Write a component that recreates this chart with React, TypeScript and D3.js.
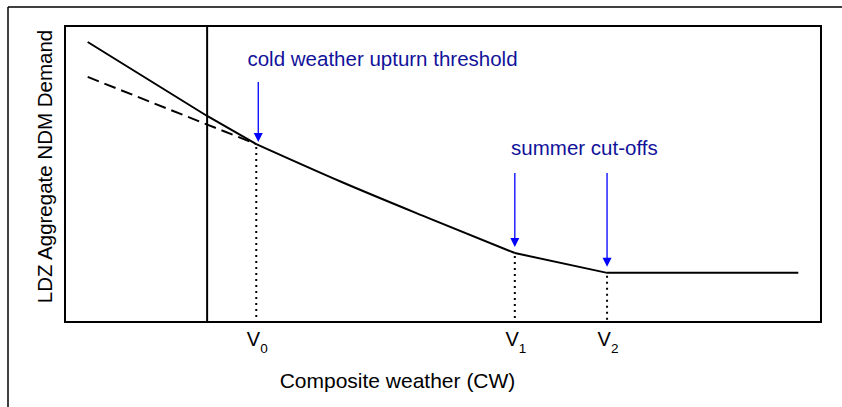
import React from "react";
import * as d3 from "d3";

// Abstract units (composite weather on x, demand on y), both 0..100
const solidUpper: [number, number][] = [
  [3.0, 94.6],
  [18.8, 69.6],
  [25.3, 60.1],
];
const solidMid: [number, number][] = [
  [25.3, 60.1],
  [36.6, 47.3],
  [48.1, 35.1],
  [59.5, 23.3],
];
const solidLower: [number, number][] = [
  [59.5, 23.3],
  [71.7, 16.6],
  [97.0, 16.6],
];
const dashedLine: [number, number][] = [
  [3.0, 82.8],
  [25.3, 60.1],
];
const verticalLineX = 18.8;
const thresholds = [
  { name: "V", sub: "0", x: 25.3, y: 60.1 },
  { name: "V", sub: "1", x: 59.5, y: 23.3 },
  { name: "V", sub: "2", x: 71.7, y: 16.6 },
];
const annotations = [
  { text: "cold weather upturn threshold", arrows: [0], arrowTop: 81.1, labelY: 86.5, labelX: 42.0 },
  { text: "summer cut-offs", arrows: [1, 2], arrowTop: 50.3, labelY: 56.5, labelX: 68.7 },
];
const xTitle = "Composite weather (CW)";
const yTitle = "LDZ Aggregate NDM Demand";

const W = 842;
const H = 407;
const box = { left: 65, right: 821, top: 26, bottom: 322 };
const FONT = "'Liberation Sans', Arial, sans-serif";

export default function App() {
  const x = d3.scaleLinear().domain([0, 100]).range([box.left, box.right]);
  const y = d3.scaleLinear().domain([0, 100]).range([box.bottom, box.top]);
  const lin = d3.line<[number, number]>().x((d) => x(d[0])).y((d) => y(d[1]));
  const smooth = d3
    .line<[number, number]>()
    .x((d) => x(d[0]))
    .y((d) => y(d[1]))
    .curve(d3.curveMonotoneX);

  const arrowColor = "#0000ff";
  const textColor = "#12129a";

  return (
    <svg
      width={W}
      height={H}
      style={{ position: "absolute", left: 0, top: 0, background: "#fff" }}
      fontFamily={FONT}
    >
      <rect x={0} y={0} width={W} height={H} fill="#fff" />
      {/* outer frame (top & left visible) */}
      <line x1={8} y1={7} x2={W} y2={7} stroke="#000" strokeWidth={1.5} />
      <line x1={8} y1={7} x2={8} y2={H} stroke="#000" strokeWidth={1.5} />

      {/* plot box */}
      <rect
        x={box.left}
        y={box.top}
        width={box.right - box.left}
        height={box.bottom - box.top}
        fill="none"
        stroke="#000"
        strokeWidth={2}
      />
      {/* vertical line */}
      <line
        x1={x(verticalLineX)}
        x2={x(verticalLineX)}
        y1={box.top}
        y2={box.bottom}
        stroke="#000"
        strokeWidth={2}
      />

      {/* dotted drop lines */}
      {thresholds.map((t, i) => (
        <line
          key={"d" + i}
          x1={x(t.x)}
          x2={x(t.x)}
          y1={y(t.y) + 3}
          y2={box.bottom}
          stroke="#000"
          strokeWidth={2}
          strokeDasharray="2,4"
        />
      ))}

      {/* dashed line */}
      <path d={lin(dashedLine) || ""} fill="none" stroke="#000" strokeWidth={2} strokeDasharray="12,6" />
      {/* solid curve */}
      <path d={lin(solidUpper) || ""} fill="none" stroke="#000" strokeWidth={2} />
      <path d={smooth(solidMid) || ""} fill="none" stroke="#000" strokeWidth={2} />
      <path d={lin(solidLower) || ""} fill="none" stroke="#000" strokeWidth={2} />

      {/* annotations */}
      {annotations.map((a, i) => (
        <g key={"a" + i}>
          <text
            x={x(a.labelX)}
            y={y(a.labelY)}
            textAnchor="middle"
            fontSize={20.5}
            fill={textColor}
          >
            {a.text}
          </text>
          {a.arrows.map((k) => {
            const t = thresholds[k];
            const ax = x(t.x) + (k === 0 ? 2 : 0);
            const tip = y(t.y) - (k === 0 ? 2 : 6);
            return (
              <g key={"ar" + k}>
                <line x1={ax} x2={ax} y1={y(a.arrowTop)} y2={tip - 8} stroke={arrowColor} strokeWidth={1.3} />
                <path
                  d={`M${ax - 4.5},${tip - 9} L${ax + 4.5},${tip - 9} L${ax},${tip} Z`}
                  fill={arrowColor}
                />
              </g>
            );
          })}
        </g>
      ))}

      {/* threshold labels */}
      {thresholds.map((t, i) => (
        <text key={"l" + i} x={x(t.x) + 1} y={346} textAnchor="middle" fontSize={20} fill="#000">
          <tspan>{t.name}</tspan>
          <tspan fontSize={13.5} dy={7}>
            {t.sub}
          </tspan>
        </text>
      ))}

      {/* axis titles */}
      <text x={397.5} y={388} textAnchor="middle" fontSize={21} fill="#000">
        {xTitle}
      </text>
      <text
        transform={`translate(52, 166.5) rotate(-90)`}
        textAnchor="middle"
        fontSize={20.5}
        fill="#000"
      >
        {yTitle}
      </text>
    </svg>
  );
}
